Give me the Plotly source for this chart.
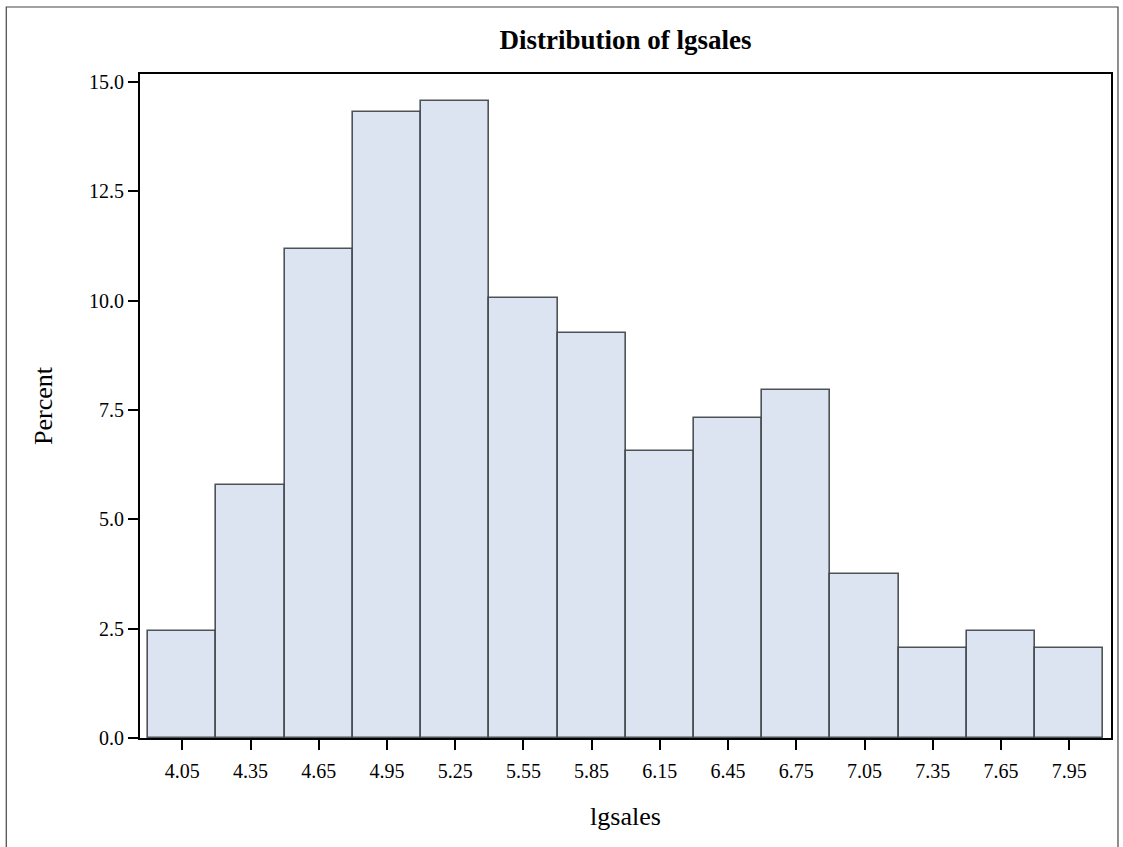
import plotly.graph_objects as go

# Histogram of lgsales: bin midpoints (bin width 0.3) and percent of observations
bin_midpoints = [4.05, 4.35, 4.65, 4.95, 5.25, 5.55, 5.85, 6.15, 6.45, 6.75, 7.05, 7.35, 7.65, 7.95]
percent = [2.44, 5.79, 11.19, 14.30, 14.57, 10.07, 9.26, 6.56, 7.32, 7.96, 3.74, 2.05, 2.45, 2.05]
bin_width = 0.3

x_tick_labels = ["4.05", "4.35", "4.65", "4.95", "5.25", "5.55", "5.85",
                 "6.15", "6.45", "6.75", "7.05", "7.35", "7.65", "7.95"]
y_tick_values = [0.0, 2.5, 5.0, 7.5, 10.0, 12.5, 15.0]

FONT = "Liberation Serif"

fig = go.Figure(
    go.Bar(
        x=bin_midpoints,
        y=percent,
        width=bin_width,
        marker=dict(color="#dbe4f0", line=dict(color="rgba(60,65,70,0.9)", width=1.6)),
        hoverinfo="x+y",
    )
)

fig.update_layout(
    width=1123,
    height=847,
    margin=dict(l=140, r=10, t=74, b=109),
    paper_bgcolor="white",
    plot_bgcolor="white",
    showlegend=False,
    font=dict(family=FONT, color="black"),
    title=dict(
        text="<b>Distribution of lgsales</b>",
        font=dict(family=FONT, size=27, color="black"),
        x=0.5, xref="paper", xanchor="center",
        y=1 - 40 / 847, yref="container", yanchor="middle",
    ),
    bargap=0,
)

fig.update_xaxes(
    range=[3.864, 8.134],
    tickvals=bin_midpoints,
    ticktext=x_tick_labels,
    ticks="outside", ticklen=10, tickwidth=2, tickcolor="black",
    tickfont=dict(family=FONT, size=20, color="black"),
    ticklabelstandoff=4,
    showline=True, linecolor="black", linewidth=2, mirror=True,
    showgrid=False, zeroline=False,
    title=dict(text="lgsales", font=dict(family=FONT, size=26, color="black"), standoff=26),
)

fig.update_yaxes(
    range=[0, 15.18],
    tickvals=y_tick_values,
    tickformat=".1f",
    ticks="outside", ticklen=10, tickwidth=2, tickcolor="black",
    tickfont=dict(family=FONT, size=20, color="black"),
    showline=True, linecolor="black", linewidth=2, mirror=True,
    showgrid=False, zeroline=False,
    title=dict(text="Percent", font=dict(family=FONT, size=26, color="black"), standoff=29),
)

# Outer frame around the whole graph
fig.add_shape(
    type="rect", xref="paper", yref="paper",
    x0=(6 - 140) / 973, x1=(1120 - 140) / 973,
    y0=(738 - 870) / 664, y1=(738 - 7) / 664,
    line=dict(color="#444444", width=1.2), fillcolor="rgba(0,0,0,0)",
    layer="below",
)

fig.write_html("out.html")
